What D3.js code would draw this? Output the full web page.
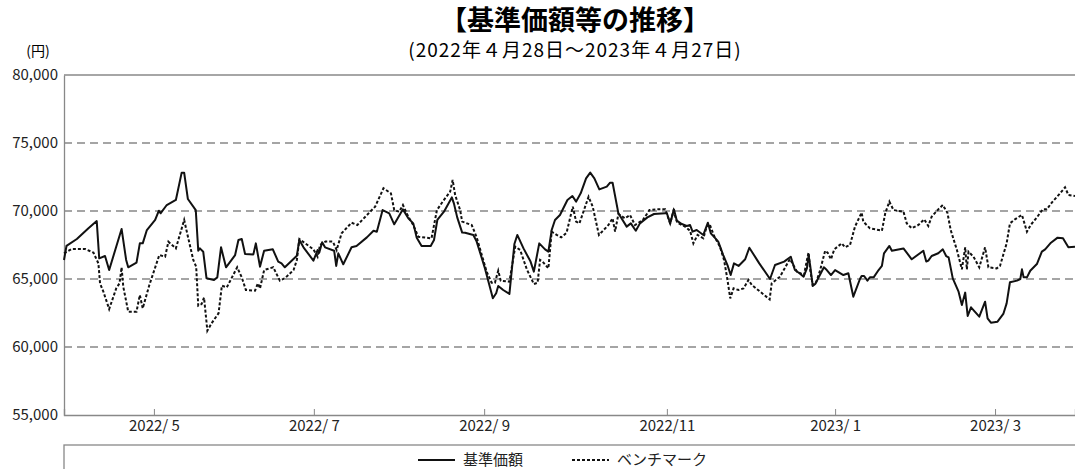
<!DOCTYPE html>
<html>
<head>
<meta charset="utf-8">
<script src="https://cdn.jsdelivr.net/npm/d3@7"></script>
<style>
  body { margin: 0; background: #fff; }
  #chart { width: 1075px; height: 469px; }
  text { font-family: "Noto Sans CJK JP", "Noto Sans", sans-serif; }
</style>
</head>
<body>
<div id="chart"></div>
<script>
// trading-day index (0 = 2022/4/28, 244 = 2023/4/27) and value
const navIdx = [0, 0.6, 3.1, 5.9, 7.9, 8.5, 9.9, 10.9, 13.9, 15.0, 15.5, 17.5, 18.3, 19.0, 20.0, 22.0, 22.9, 23.3, 24.8, 27.0, 28.4, 29.0, 29.9, 31.8, 32.4, 32.8, 33.6, 34.4, 36.2, 37.0, 37.9, 39.1, 41.3, 42.1, 42.9, 43.7, 45.7, 46.3, 47.3,
  48.3, 50.4, 51.7, 52.5, 53.3, 56.2, 56.8, 57.8, 60.2, 61.2, 61.6, 62.3, 63.0, 65.2, 65.7, 66.2, 67.4, 69.4, 70.6, 73.1, 74.7, 75.5, 76.9, 78.5, 79.7, 81.8, 83.1, 84.3, 85.1, 86.3, 88.5, 89.3, 90.1, 91.7, 93.6, 94.1, 94.9, 96.1,
  96.8, 98.8, 99.6, 101.6, 103.5, 104.3, 104.8, 106.0, 107.5, 108.7, 109.4, 110.9, 112.6, 113.4, 114.7, 116.1, 116.9, 117.7, 118.5, 119.7, 121.5, 122.7, 123.6, 124.7, 126.0, 127.0, 128.0, 129.2, 131.0, 131.8, 132.4, 133.8, 135.8, 136.8, 138.0, 139.0, 140.8, 142.4, 145.1,
  145.5, 146.3, 147.2, 147.9, 149.1, 150.3, 151.1, 151.7, 152.7, 154.3, 155.4, 156.1, 157.0, 157.9, 159.1, 160.2, 160.9, 161.7, 162.8, 164.4, 165.4, 167.8, 170.4, 171.6, 173.8, 175.4, 176.4, 177.5, 178.5, 179.3, 179.7, 180.1, 180.7, 181.3, 183.4, 184.1, 185.1, 186.1, 188.1, 189.3, 190.5, 192.1,
  192.5, 193.1, 193.9, 194.5, 195.4, 196.6, 197.4, 197.9, 199.2, 199.8, 202.6, 204.6, 207.4, 208.1, 208.6, 209.4, 211.0, 212.1, 212.9, 213.5, 214.5, 215.9, 216.7, 217.5, 218.1, 218.9, 220.9, 222.3, 222.9, 223.7, 225.3, 226.7, 227.5, 228.3, 230.0, 230.8, 231.2, 231.6, 232.4, 233.2, 234.8, 236.0, 236.8, 238.2, 239.8, 241.1, 242.4, 244];
const navVal = [66400, 67430, 67940, 68730, 69260, 66520, 66690, 65660, 68680, 66400, 65860, 66200, 67620, 67620, 68600, 69340, 70020, 69830, 70440, 70810, 72820, 72820, 70880, 70070, 67080, 67250, 67010, 65050, 64930, 65120, 67330, 65860, 66760, 67870, 67940, 66840, 66810, 67620, 65910,
  67080, 67180, 66280, 66150, 65860, 66710, 67870, 67330, 66350, 67130, 66940, 67700, 67330, 67080, 65960, 66890, 66080, 67330, 67430, 68060, 68550, 68480, 70070, 69830, 69020, 70120, 69460, 69090, 68060, 67430, 67430, 67870, 69340, 69950, 71000, 70560, 69530, 68410,
  68400, 68240, 67750, 65780, 63580, 63950, 64490, 64190, 63900, 67570, 68240, 67250, 66280, 65540, 67620, 67180, 67010, 68600, 69340, 69710, 70810, 71100, 70690, 71300, 72400, 72820, 72400, 71590, 71790, 72080, 72080, 69830, 68850, 69090, 68550, 69090, 69530, 69780, 69830,
  69830, 69090, 70120, 69290, 69040, 68900, 68970, 68480, 68600, 68240, 69140, 68360, 68060, 67750, 66760, 65960, 65290, 66150, 65960, 66450, 67300, 66150, 65000, 66030, 66280, 66640, 65660, 65420, 65170, 65780, 66760, 65960, 64490, 64630, 65860, 65660, 65290, 65660, 65290, 65420, 63700, 65000,
  65220, 65220, 64880, 65120, 65120, 65660, 65960, 66890, 67430, 67080, 67250, 66450, 67080, 66280, 66350, 66690, 66890, 67180, 66690, 66590, 65050, 64070, 63090, 64000, 62280, 62920, 62230, 63330, 62110, 61790, 61860, 62430, 63210, 64760, 64880, 65000, 65710, 65120, 65120, 65610, 66100, 67010, 67180, 67670, 68040, 67990, 67330, 67380];

const bmIdx = [0, 1.9, 5.1, 7.1, 8.3, 8.7, 9.5, 10.9, 12.6, 13.4, 13.9, 14.3, 15.5, 17.5, 18.3, 19.0, 20.6, 23.0, 24.4, 25.2, 27.0, 29.0, 30.0, 31.2, 31.9, 32.4, 33.2, 33.8, 34.6, 35.6, 37.3, 38.1, 39.3, 41.8, 42.9, 43.9, 46.1, 46.8, 47.3,
  48.3, 50.5, 52.1, 53.3, 55.4, 56.2, 56.8, 58.2, 60.2, 61.2, 61.8, 63.1, 64.9, 65.8, 67.0, 69.4, 70.8, 73.9, 75.1, 77.1, 78.9, 79.7, 80.9, 81.8, 83.1, 84.3, 85.5, 88.7, 90.0, 91.4, 93.2, 93.8, 94.4, 95.6, 96.1,
  98.4, 99.6, 102.0, 103.2, 104.0, 104.8, 105.4, 107.5, 108.9, 110.1, 111.7, 113.4, 114.3, 114.9, 115.5, 116.9, 117.7, 118.9, 120.0, 121.3, 122.8, 123.6, 124.4, 126.6, 127.6, 129.1, 131.4, 132.4, 133.0, 133.8, 135.4, 136.6, 137.8, 139.7, 141.3, 143.1, 145.1,
  146.3, 147.1, 148.0, 149.9, 151.1, 151.9, 152.9, 154.3, 155.1, 155.8, 156.9, 158.3, 159.3, 160.0, 160.8, 161.6, 162.8, 164.0, 165.2, 166.0, 168.0, 170.3, 170.8, 172.8, 175.2, 176.9, 178.6, 179.3, 179.7, 180.1, 180.7, 181.5, 182.5, 183.7, 184.3, 185.1, 185.9, 187.7, 188.5, 189.7, 190.9, 192.5,
  192.9, 194.5, 196.6, 197.4, 198.2, 199.2, 200.2, 202.6, 203.4, 204.6, 206.2, 207.6, 208.6, 209.4, 211.0, 212.1, 213.2, 214.0, 215.5, 216.7, 217.5, 217.9, 218.3, 219.5, 220.9, 222.3, 223.1, 225.1, 225.9, 227.5, 228.3, 229.5, 231.2, 232.4, 233.3, 234.8, 236.2, 237.2, 238.4, 240.4, 241.6, 242.4, 244];
const bmVal = [66890, 67210, 67210, 66940, 66150, 64680, 64070, 62790, 64310, 64680, 65860, 64440, 62600, 62600, 63820, 62840, 64560, 66760, 66640, 67740, 67250, 69340, 67990, 66400, 65910, 63040, 63160, 63630, 61200, 61740, 62480, 64510, 64390, 65860, 65120, 64190, 64140, 64680, 64300,
  65660, 65860, 64880, 65050, 65660, 66400, 67940, 67620, 67180, 66640, 67500, 67750, 67750, 67130, 68360, 69140, 68970, 69950, 70320, 71670, 71300, 70070, 69950, 70440, 69580, 68970, 68110, 67990, 70070, 70690, 71420, 72280, 71180, 70070, 69220,
  68970, 68060, 65540, 64730, 64730, 65610, 64880, 64800, 67380, 67130, 65710, 64630, 64730, 66400, 66280, 65780, 68480, 68240, 68060, 68410, 70320, 69220, 69090, 71050, 70320, 68240, 68970, 69460, 68480, 69780, 69460, 69710, 68970, 69340, 70070, 70120, 70120,
  69090, 70020, 69140, 68850, 68550, 67620, 68240, 67990, 68850, 69040, 68160, 67380, 66400, 65170, 63580, 64310, 64190, 64310, 64930, 64560, 64070, 63500, 64680, 65170, 66470, 65540, 65290, 66400, 66940, 65660, 64560, 64730, 65660, 67080, 66940, 66450, 67180, 67620, 67330, 67500, 68850, 69880,
  69220, 68730, 68600, 68550, 69830, 70690, 70070, 69950, 69090, 68730, 68970, 69390, 68900, 69580, 70120, 70440, 69880, 68600, 67130, 65710, 67330, 65710, 67010, 66640, 65860, 67330, 65860, 65780, 65960, 67620, 69090, 69390, 69710, 68480, 68970, 69530, 70120, 70120, 70620, 71300, 71740, 71180, 71100];

const yTicks = [55000, 60000, 65000, 70000, 75000, 80000];
const xTickIdx = [21.7, 60.3, 101.4, 145.5, 186.1, 224.7];
const xTickLabels = ["2022/ 5", "2022/ 7", "2022/ 9", "2022/11", "2023/ 1", "2023/ 3"];
const seriesNames = ["基準価額", "ベンチマーク"];

const chartElement = document.getElementById("chart");
const margin = { top: 75, right: 0, bottom: 54, left: 64 };
const width = 1075 - margin.left - margin.right;
const height = 469 - margin.top - margin.bottom;

const root = d3.select(chartElement)
  .append("svg")
  .attr("width", 1075)
  .attr("height", 469);

root.append("text")
  .attr("x", 575).attr("y", 30)
  .attr("text-anchor", "middle")
  .style("font-size", "27px").style("font-weight", "bold")
  .text("【基準価額等の推移】");

root.append("text")
  .attr("x", 575).attr("y", 57)
  .attr("text-anchor", "middle")
  .style("font-size", "19px")
  .style("letter-spacing", "1px")
  .text("(2022年４月28日～2023年４月27日)");

root.append("text")
  .attr("x", 38).attr("y", 56)
  .attr("text-anchor", "middle")
  .style("font-size", "14px")
  .text("(円)");

const svg = root.append("g")
  .attr("transform", `translate(${margin.left},${margin.top})`);

const x = d3.scaleLinear().domain([0, 244]).range([0, width]);
const y = d3.scaleLinear().domain([55000, 80000]).range([height, 0]);

// grid
svg.append("g")
  .selectAll("line")
  .data(yTicks.slice(1))
  .enter()
  .append("line")
  .attr("x1", 0)
  .attr("x2", width)
  .attr("y1", (d) => y(d))
  .attr("y2", (d) => y(d))
  .attr("stroke", "#888")
  .attr("stroke-width", 1.3)
  .attr("stroke-dasharray", (d) => (d === 80000 ? null : "8,5"));

const yAxis = svg.append("g")
  .call(d3.axisLeft(y).tickValues(yTicks).tickSize(0).tickPadding(6).tickFormat(d3.format(",")));
yAxis.select(".domain").attr("stroke", "#888").attr("stroke-width", 1.3);
yAxis.selectAll("text").style("font-size", "15px").attr("fill", "#222");

const xAxis = svg.append("g")
  .attr("transform", `translate(0,${height})`)
  .call(d3.axisBottom(x).tickValues(xTickIdx).tickSize(-6).tickPadding(5).tickFormat((d, i) => xTickLabels[i]));
xAxis.select(".domain").attr("stroke", "#888").attr("stroke-width", 1.3);
xAxis.selectAll(".tick line").attr("stroke", "#888");
xAxis.selectAll("text").style("font-size", "15px").attr("fill", "#222");

const line = d3.line()
  .x((d) => x(d[0]))
  .y((d) => y(d[1]));

svg.append("path")
  .datum(bmIdx.map((d, i) => [d, bmVal[i]]))
  .attr("fill", "none")
  .attr("stroke", "#111")
  .attr("stroke-width", 2)
  .attr("stroke-dasharray", "3,2")
  .attr("d", line);

svg.append("path")
  .datum(navIdx.map((d, i) => [d, navVal[i]]))
  .attr("fill", "none")
  .attr("stroke", "#111")
  .attr("stroke-width", 2)
  .attr("stroke-linejoin", "round")
  .attr("d", line);

// legend box
root.append("rect")
  .attr("x", margin.left).attr("y", 445)
  .attr("width", width + 10).attr("height", 40)
  .attr("fill", "none")
  .attr("stroke", "#888")
  .attr("stroke-width", 1.3);

const legend = root.append("g").attr("transform", "translate(0,460)");
const legendX = [418, 572];
legend.selectAll("line")
  .data(seriesNames)
  .enter()
  .append("line")
  .attr("x1", (d, i) => legendX[i])
  .attr("x2", (d, i) => legendX[i] + 37)
  .attr("y1", 0).attr("y2", 0)
  .attr("stroke", "#111")
  .attr("stroke-width", 2)
  .attr("stroke-dasharray", (d, i) => (i === 1 ? "3,2" : null));
legend.selectAll("text")
  .data(seriesNames)
  .enter()
  .append("text")
  .attr("x", (d, i) => legendX[i] + 45)
  .attr("y", 0)
  .attr("dy", "0.35em")
  .style("font-size", "15px")
  .attr("fill", "#222")
  .text((d) => d);
</script>
</body>
</html>
